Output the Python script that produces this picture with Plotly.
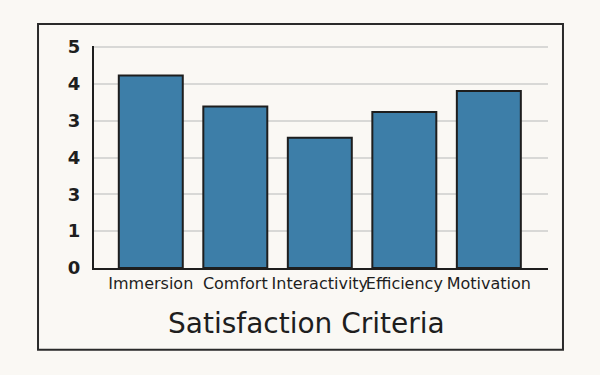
import plotly.graph_objects as go

categories = ["Immersion", "Comfort", "Interactivity", "Efficiency", "Motivation"]
values = [5.23, 4.39, 3.54, 4.24, 4.81]
y_tickvals = [0, 1, 2, 3, 4, 5, 6]
y_ticktext = ["0", "1", "3", "4", "3", "4", "5"]
x_title = "Satisfaction Criteria"

bg = "#faf8f4"
bar_color = "#3d7ea8"
ink = "#1e1e1e"

fig = go.Figure(
    go.Bar(
        x=categories,
        y=values,
        width=0.757,
        marker=dict(color=bar_color, line=dict(color=ink, width=2)),
    )
)

fig.update_layout(
    width=600,
    height=375,
    margin=dict(l=94, r=52, t=46, b=107),
    paper_bgcolor=bg,
    plot_bgcolor=bg,
    showlegend=False,
    font=dict(family="DejaVu Sans", color=ink),
    xaxis=dict(
        range=[-0.672, 4.70],
        showline=True,
        linecolor=ink,
        linewidth=2,
        showgrid=False,
        ticks="",
        tickangle=0,
        tickfont=dict(size=16, family="DejaVu Sans", color=ink),
        fixedrange=True,
    ),
    yaxis=dict(
        range=[0, 6.03],
        tickvals=y_tickvals,
        ticktext=y_ticktext,
        showline=True,
        linecolor=ink,
        linewidth=2,
        showgrid=True,
        gridcolor="#d8d8d6",
        gridwidth=1.5,
        zeroline=False,
        ticks="",
        ticklabelstandoff=8,
        tickfont=dict(size=18, family="DejaVu Sans", color=ink, weight="bold"),
        fixedrange=True,
    ),
    shapes=[
        dict(
            type="rect",
            xref="paper",
            yref="paper",
            x0=-0.1233,
            x1=1.033,
            y0=-0.368,
            y1=1.099,
            line=dict(color="#2a2a2a", width=2),
            fillcolor="rgba(0,0,0,0)",
            layer="below",
        )
    ],
    annotations=[
        dict(
            text=x_title,
            xref="paper",
            yref="paper",
            x=0.469,
            y=-0.248,
            xanchor="center",
            yanchor="middle",
            showarrow=False,
            font=dict(size=28, family="DejaVu Sans", color=ink),
        )
    ],
)

fig.write_html("out.html")
